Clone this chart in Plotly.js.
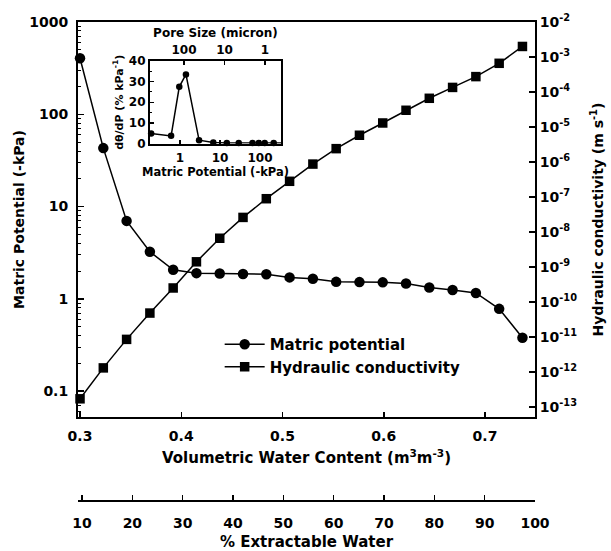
<!DOCTYPE html>
<html><head><meta charset="utf-8">
<script src="https://cdn.plot.ly/plotly-3.0.1.min.js"></script>
<style>html,body{margin:0;padding:0;background:#fff}#chart{width:611px;height:551px}</style>
</head><body><div id="chart"></div>
<script>
// Main chart data
const waterContent = [0.300,0.323,0.346,0.369,0.392,0.415,0.438,0.461,0.484,0.507,0.530,0.553,0.576,0.599,0.622,0.645,0.668,0.691,0.714,0.737];
const matricPotential = [405,43,7.0,3.24,2.07,1.90,1.88,1.86,1.85,1.71,1.65,1.53,1.52,1.51,1.47,1.33,1.25,1.16,0.78,0.38];
const hydraulicK = [1.7e-13,1.3e-12,8.5e-12,4.8e-11,2.5e-10,1.4e-9,6.6e-9,2.6e-8,8.9e-8,2.8e-7,8.7e-7,2.4e-6,5.8e-6,1.3e-5,3.0e-5,6.6e-5,1.35e-4,2.75e-4,6.6e-4,2.0e-3];
// Inset data
const insetPotential = [0.19,0.6,0.96,1.41,3.0,6.8,14.8,29.4,65,93,131,220,348];
const insetDtheta = [4.9,3.7,27.5,33.5,1.6,0.5,0.3,0.3,0.3,0.3,0.3,0.3,0.3];
// Tick labels
const leftTickVals = [0.1,1,10,100,1000];
const leftTickText = ['0.1','1','10','100','1000'];
const rightTickVals = [1e-13,1e-12,1e-11,1e-10,1e-9,1e-8,1e-7,1e-6,1e-5,1e-4,1e-3,1e-2];
const rightTickText = ['10<sup>-13</sup>','10<sup>-12</sup>','10<sup>-11</sup>','10<sup>-10</sup>','10<sup>-9</sup>','10<sup>-8</sup>','10<sup>-7</sup>','10<sup>-6</sup>','10<sup>-5</sup>','10<sup>-4</sup>','10<sup>-3</sup>','10<sup>-2</sup>'];
const xTickVals = [0.3,0.4,0.5,0.6,0.7];
const xTickText = ['0.3','0.4','0.5','0.6','0.7'];
const extractTickVals = [10,20,30,40,50,60,70,80,90,100];
const extractTickText = ['10','20','30','40','50','60','70','80','90','100'];
const insetXTicks = [1,10,100];
const insetXText = ['1','10','100'];
const poreTicks = [100,10,1];
const poreText = ['100','10','1'];
const insetYTicks = [0,10,20,30,40];
const insetYText = ['0','10','20','30','40'];

const F = 'DejaVu Sans, sans-serif';
const ft = (s)=>({family:F, size:s, color:'#000'});
const B = (s)=>'<b>'+s+'</b>';
const Bs = (a)=>a.map(B);

const traces = [
  {x: waterContent, y: matricPotential, name:B('Matric potential'), type:'scatter', mode:'lines+markers',
   xaxis:'x', yaxis:'y', line:{color:'#000', width:1.5}, marker:{symbol:'circle', size:10.5, color:'#000'}, cliponaxis:false},
  {x: waterContent, y: hydraulicK, name:B('Hydraulic conductivity'), type:'scatter', mode:'lines+markers',
   xaxis:'x', yaxis:'y2', line:{color:'#000', width:1.5}, marker:{symbol:'square', size:9.5, color:'#000'}, cliponaxis:false},
  {x: insetPotential, y: insetDtheta, type:'scatter', mode:'lines+markers', showlegend:false,
   xaxis:'x3', yaxis:'y3', line:{color:'#000', width:1.5}, marker:{symbol:'circle', size:6.5, color:'#000'}, cliponaxis:false},
  // carriers so the secondary axes get drawn (no visible marks)
  {x: [extractTickVals[0]], y: [null], xaxis:'x2', yaxis:'y', mode:'markers', showlegend:false, hoverinfo:'skip'},
  {x: [poreTicks[0]], y: [null], xaxis:'x4', yaxis:'y3', mode:'markers', showlegend:false, hoverinfo:'skip'}
];

const yMainDomain = [0.1736, 1];
const layout = {
  width:611, height:551,
  margin:{l:78, r:76, t:22, b:51},
  paper_bgcolor:'#fff', plot_bgcolor:'rgba(0,0,0,0)',
  font: ft(14),
  showlegend:true,
  legend:{x:0.31, y:0.36, xanchor:'left', yanchor:'top', bgcolor:'rgba(0,0,0,0)', font:ft(15), itemwidth:40, tracegroupgap:0},
  xaxis:{type:'linear', range:[0.298,0.7494], domain:[0,1], anchor:'y',
    showline:true, linecolor:'#000', linewidth:2, mirror:true, showgrid:false, zeroline:false,
    ticks:'inside', ticklen:5, tickwidth:1.5, tickcolor:'#000', tickvals:xTickVals, ticktext:Bs(xTickText), tickfont:ft(14),
    ticklabelstandoff:5,
    title:{text:B('Volumetric Water Content (m<sup>3</sup>m<sup>-3</sup>)'), font:ft(15), standoff:10}},
  yaxis:{type:'log', range:[-1.28,3], domain:yMainDomain, anchor:'x',
    showline:true, linecolor:'#000', linewidth:2, showgrid:false, zeroline:false,
    ticks:'inside', ticklen:6, tickwidth:1.5, tickcolor:'#000', tickvals:leftTickVals, ticktext:Bs(leftTickText), tickfont:ft(14),
    ticklabelstandoff:5,
    minor:{ticks:'inside', ticklen:3, tickwidth:1, tickcolor:'#000', tickvals:[0.06,0.07,0.08,0.09,0.2,0.3,0.4,0.5,0.6,0.7,0.8,0.9,2,3,4,5,6,7,8,9,20,30,40,50,60,70,80,90,200,300,400,500,600,700,800,900], showgrid:false},
    title:{text:B('Matric Potential (-kPa)'), font:ft(14), standoff:1}},
  yaxis2:{type:'log', range:[-13.29,-2], domain:yMainDomain, anchor:'x', overlaying:'y', side:'right',
    showline:true, linecolor:'#000', linewidth:2, showgrid:false, zeroline:false,
    ticks:'inside', ticklen:6, tickwidth:1.5, tickcolor:'#000', tickvals:rightTickVals, ticktext:Bs(rightTickText), tickfont:ft(14),
    title:{text:B('Hydraulic conductivity (m s<sup>-1</sup>)'), font:ft(14), standoff:17}},
  xaxis2:{type:'linear', range:[9.2,100], domain:[0,1], anchor:'free', position:0, overlaying:'x',
    showline:true, linecolor:'#000', linewidth:1.5, showgrid:false, zeroline:false,
    ticks:'inside', ticklen:5, tickwidth:1.5, tickcolor:'#000', tickvals:extractTickVals, ticktext:Bs(extractTickText), tickfont:ft(14),
    ticklabelstandoff:10,
    title:{text:B('% Extractable Water'), font:ft(15), standoff:7}},
  xaxis3:{type:'log', range:[-0.75,2.525], domain:[0.1575,0.4442], anchor:'y3',
    showline:true, linecolor:'#000', linewidth:2, showgrid:false, zeroline:false,
    ticks:'inside', ticklen:4, tickwidth:1.5, tickcolor:'#000', tickvals:insetXTicks, ticktext:Bs(insetXText), tickfont:ft(12),
    ticklabelstandoff:2,
    title:{text:B('Matric Potential (-kPa)'), font:ft(11.5), standoff:3}},
  xaxis4:{type:'log', range:[2.84,-0.395], domain:[0.1575,0.4442], anchor:'y3', overlaying:'x3', side:'top',
    showline:true, linecolor:'#000', linewidth:2, showgrid:false, zeroline:false,
    ticks:'inside', ticklen:4, tickwidth:1.5, tickcolor:'#000', tickvals:poreTicks, ticktext:Bs(poreText), tickfont:ft(12),
    ticklabelstandoff:0,
    title:{text:B('Pore Size (micron)'), font:ft(12), standoff:3}},
  yaxis3:{type:'linear', range:[0,40], domain:[0.7458,0.9184], anchor:'x3',
    showline:true, linecolor:'#000', linewidth:2, mirror:true, showgrid:false, zeroline:false,
    ticks:'inside', ticklen:4, tickwidth:1.5, tickcolor:'#000', tickvals:insetYTicks, ticktext:Bs(insetYText), tickfont:ft(12),
    minor:{ticks:'inside', ticklen:2, tickwidth:1, tickcolor:'#000', dtick:5, showgrid:false},
    title:{text:B('dθ/dP (% kPa<sup>-1</sup>)'), font:ft(11), standoff:3}}
};
Plotly.newPlot('chart', traces, layout, {displayModeBar:false, staticPlot:true});
</script>
</body></html>
